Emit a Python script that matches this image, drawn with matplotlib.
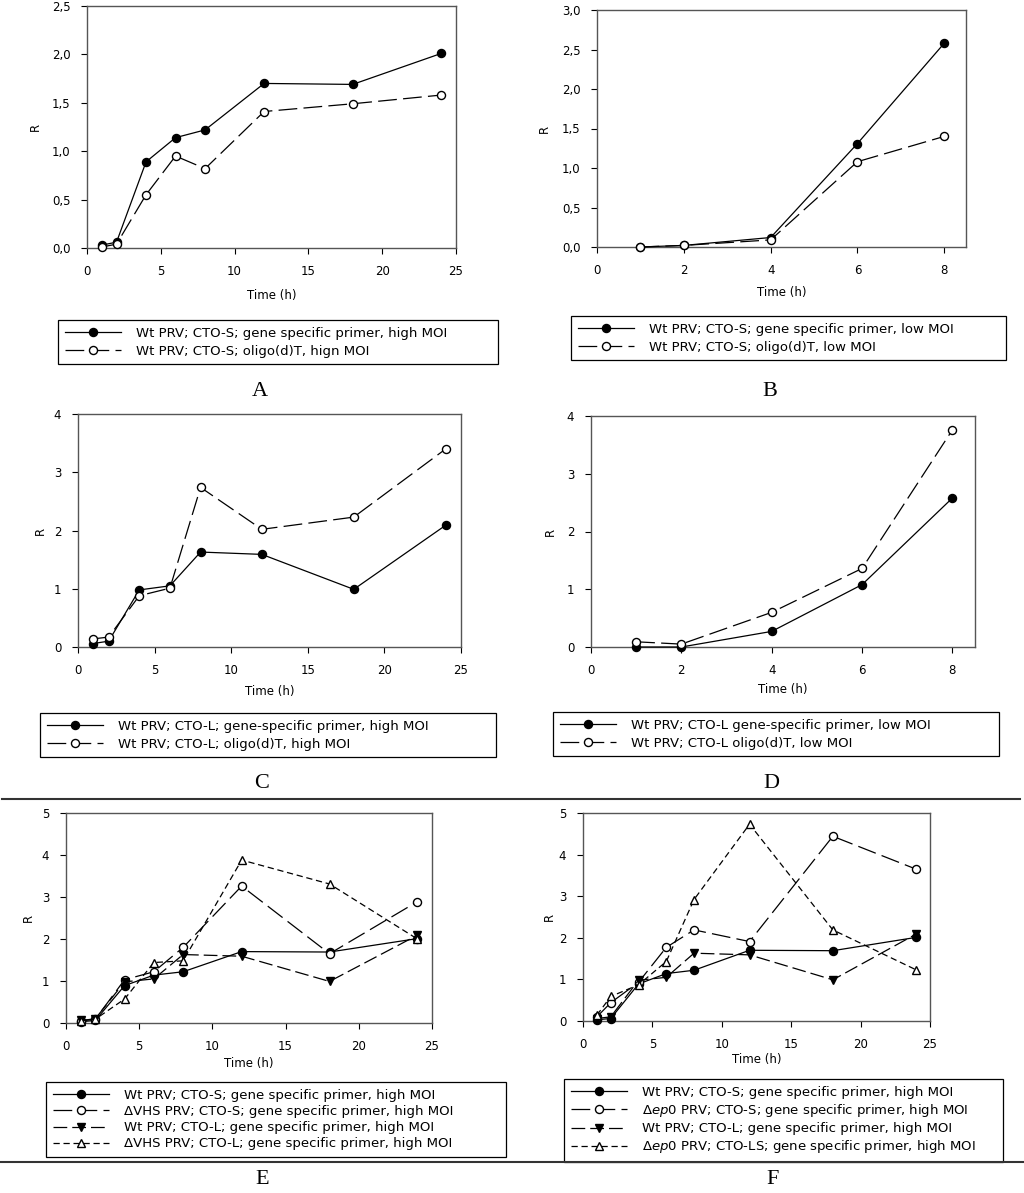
import matplotlib
matplotlib.use('Agg')
import matplotlib.pyplot as plt
from matplotlib.lines import Line2D

plt.rcParams['font.family'] = ['DejaVu Sans']
plt.rcParams['mathtext.fontset'] = 'dejavusans'

# ---- data ----
time_long = [1, 2, 4, 6, 8, 12, 18, 24]
time_short = [1, 2, 4, 6, 8]

# A: Wt PRV, CTO-S, high MOI
a_gene = [0.03, 0.06, 0.89, 1.14, 1.22, 1.70, 1.69, 2.01]
a_oligo = [0.01, 0.04, 0.55, 0.95, 0.82, 1.41, 1.49, 1.58]

# B: Wt PRV, CTO-S, low MOI
b_gene = [0.00, 0.02, 0.12, 1.31, 2.58]
b_oligo = [0.00, 0.02, 0.09, 1.08, 1.40]

# C: Wt PRV, CTO-L, high MOI
c_gene = [0.06, 0.10, 0.98, 1.05, 1.63, 1.59, 0.99, 2.09]
c_oligo = [0.14, 0.17, 0.88, 1.01, 2.74, 2.02, 2.23, 3.40]

# D: Wt PRV, CTO-L, low MOI
d_gene = [0.00, 0.00, 0.27, 1.08, 2.58]
d_oligo = [0.09, 0.05, 0.60, 1.36, 3.76]

# E: dVHS mutant
e_vhs_s = [0.05, 0.09, 1.03, 1.22, 1.80, 3.26, 1.65, 2.89]
e_vhs_l = [0.05, 0.09, 0.57, 1.44, 1.48, 3.88, 3.31, 2.00]

# F: dep0 mutant
f_ep0_s = [0.10, 0.44, 0.93, 1.77, 2.19, 1.91, 4.44, 3.65]
f_ep0_ls = [0.14, 0.59, 0.87, 1.43, 2.92, 4.73, 2.19, 1.23]

xticks_long = [0, 5, 10, 15, 20, 25]
xticks_short = [0, 2, 4, 6, 8]
a_yticks = [0, 0.5, 1.0, 1.5, 2.0, 2.5]
a_yticklabels = ['0,0', '0,5', '1,0', '1,5', '2,0', '2,5']
b_yticks = [0, 0.5, 1.0, 1.5, 2.0, 2.5, 3.0]
b_yticklabels = ['0,0', '0,5', '1,0', '1,5', '2,0', '2,5', '3,0']
cd_yticks = [0, 1, 2, 3, 4]
ef_yticks = [0, 1, 2, 3, 4, 5]

# ---- styles ----
LW = 0.9
s_filled = dict(color='black', lw=LW, ls='-', marker='o', mfc='black', mec='black', ms=5.8)
s_open = dict(color='black', lw=LW, ls=(0, (15, 5)), marker='o', mfc='white', mec='black', ms=5.8)
s_tri = dict(color='black', lw=LW, ls=(0, (11, 4)), marker='v', mfc='black', mec='black', ms=5.8)
s_open_tri = dict(color='black', lw=LW, ls=(0, (5, 3)), marker='^', mfc='white', mec='black', ms=5.8)

W, H = 1024, 1193
fig = plt.figure(figsize=(W / 100, H / 100), dpi=100)


def rect(l, t, r, b):
    return [l / W, 1 - b / H, (r - l) / W, (b - t) / H]


def panel(ax_px, xlim, xticks, ylim, yticks, yticklabels, series, leg_px,
          letter, letter_x, letter_y, time_y, r_x, lspace=0.38):
    ax = fig.add_axes(rect(*ax_px))
    for x, y, lab, st in series:
        ax.plot(x, y, label=lab, clip_on=False, zorder=3, **st)
    ax.set_xlim(*xlim)
    ax.set_ylim(*ylim)
    ax.set_xticks(xticks)
    ax.set_yticks(yticks)
    if yticklabels is not None:
        ax.set_yticklabels(yticklabels)
    ax.tick_params(direction='out', length=4, width=0.8, labelsize=8.5, pad=8,
                   colors='black', top=False, right=False)
    for sp in ax.spines.values():
        sp.set_color('#555555')
        sp.set_linewidth(1.0)
    l, t, r, b = ax_px
    fig.text((l + r) / 2 / W, 1 - time_y / H, 'Time (h)', ha='center', va='center', fontsize=8.5)
    fig.text(r_x / W, 1 - (t + b) / 2 / H, 'R', ha='center', va='center', fontsize=8.5, rotation=90)
    ll, lt, lr, lb = leg_px
    leg = ax.legend(loc='upper left', bbox_to_anchor=(ll / W, 1 - lb / H, (lr - ll) / W, (lb - lt) / H),
                    bbox_transform=fig.transFigure, mode='expand', fontsize=9.5,
                    fancybox=False, framealpha=1, edgecolor='black', borderpad=0.5,
                    handlelength=4.3, handletextpad=1.1, labelspacing=lspace, borderaxespad=0)
    leg.get_frame().set_linewidth(0.9)
    fig.text(letter_x / W, 1 - letter_y / H, letter, ha='center', va='center',
             fontsize=16, family='Liberation Serif')
    return ax


panel((87, 6, 456, 248), (0, 25), xticks_long, (0, 2.5), a_yticks, a_yticklabels,
      [(time_long, a_gene, 'Wt PRV; CTO-S; gene specific primer, high MOI', s_filled),
       (time_long, a_oligo, 'Wt PRV; CTO-S; oligo(d)T, hign MOI', s_open)],
      (58, 320, 498, 368), 'A', 260, 392, 295, 35)

panel((597, 10, 966, 247), (0, 8.5), xticks_short, (0, 3.0), b_yticks, b_yticklabels,
      [(time_short, b_gene, 'Wt PRV; CTO-S; gene specific primer, low MOI', s_filled),
       (time_short, b_oligo, 'Wt PRV; CTO-S; oligo(d)T, low MOI', s_open)],
      (571, 316, 1006, 363), 'B', 770, 392, 293, 544)

panel((78, 414, 461, 647), (0, 25), xticks_long, (0, 4), cd_yticks, None,
      [(time_long, c_gene, 'Wt PRV; CTO-L; gene-specific primer, high MOI', s_filled),
       (time_long, c_oligo, 'Wt PRV; CTO-L; oligo(d)T, high MOI', s_open)],
      (40, 713, 496, 761), 'C', 262, 784, 692, 40)

panel((591, 416, 975, 647), (0, 8.5), xticks_short, (0, 4), cd_yticks, None,
      [(time_short, d_gene, 'Wt PRV; CTO-L gene-specific primer, low MOI', s_filled),
       (time_short, d_oligo, 'Wt PRV; CTO-L oligo(d)T, low MOI', s_open)],
      (553, 712, 999, 759), 'D', 771, 784, 690, 550)

panel((66, 813, 432, 1023), (0, 25), xticks_long, (0, 5), ef_yticks, None,
      [(time_long, a_gene, 'Wt PRV; CTO-S; gene specific primer, high MOI', s_filled),
       (time_long, e_vhs_s, '\u0394VHS PRV; CTO-S; gene specific primer, high MOI', s_open),
       (time_long, c_gene, 'Wt PRV; CTO-L; gene specific primer, high MOI', s_tri),
       (time_long, e_vhs_l, '\u0394VHS PRV; CTO-L; gene specific primer, high MOI', s_open_tri)],
      (46, 1082, 506, 1159), 'E', 262, 1180, 1063, 28, lspace=0.25)

panel((583, 813, 930, 1021), (0, 25), xticks_long, (0, 5), ef_yticks, None,
      [(time_long, a_gene, 'Wt PRV; CTO-S; gene specific primer, high MOI', s_filled),
       (time_long, f_ep0_s, r'$\Delta\mathit{ep0}$ PRV; CTO-S; gene specific primer, high MOI', s_open),
       (time_long, c_gene, 'Wt PRV; CTO-L; gene specific primer, high MOI', s_tri),
       (time_long, f_ep0_ls, r'$\Delta\mathit{ep0}$ PRV; CTO-LS; gene specific primer, high MOI', s_open_tri)],
      (564, 1079, 1003, 1155), 'F', 773, 1180, 1059, 549, lspace=0.25)

# horizontal separators between panel rows
fig.add_artist(Line2D([2 / W, 1020 / W], [1 - 799 / H] * 2, transform=fig.transFigure,
                      color='#333333', lw=1.5))
fig.add_artist(Line2D([0, 1], [1 - 1162 / H] * 2, transform=fig.transFigure,
                      color='#333333', lw=1.5))

fig.savefig('out.png', dpi=100)
